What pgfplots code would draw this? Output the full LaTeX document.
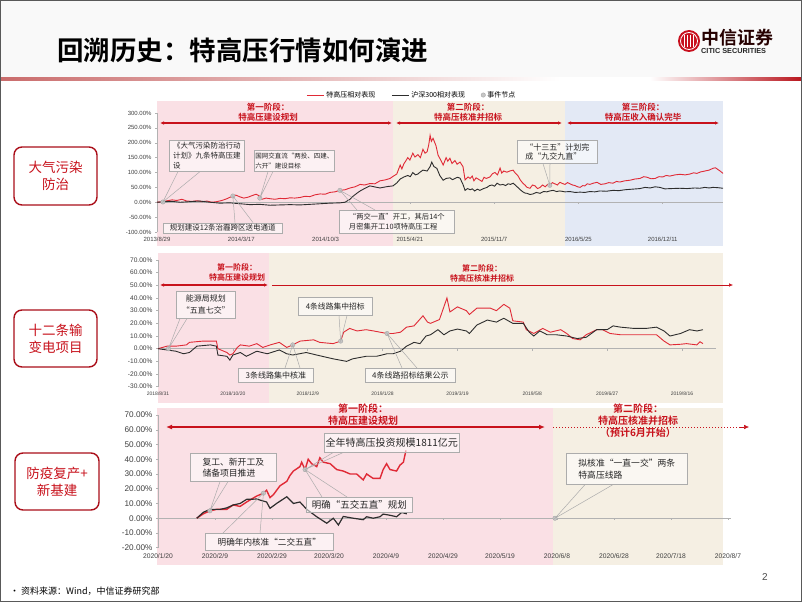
\documentclass[border=0pt]{standalone}
\usepackage{fontspec}
\usepackage{pgfplots}
\pgfplotsset{compat=1.18}
\usetikzlibrary{arrows.meta,calc}
\setmainfont{Liberation Sans}
\newfontfamily\cjk{Noto Sans CJK SC}
\newfontfamily\cjkb{Noto Sans CJK SC Bold}
\definecolor{pinkbg}{RGB}{250,224,229}
\definecolor{beigebg}{RGB}{245,239,227}
\definecolor{bluebg}{RGB}{227,233,245}
\definecolor{redl}{RGB}{224,42,54}
\definecolor{darkl}{RGB}{45,45,45}
\definecolor{phasered}{RGB}{200,18,28}
\definecolor{logored}{RGB}{200,16,30}
\definecolor{hdrl}{RGB}{202,108,108}
\definecolor{hdrr}{RGB}{185,22,30}
\pgfplotsset{
  slide/.style={scale only axis, anchor=south west, clip=false,
    axis y line*=left, axis x line*=bottom,
    x axis line style={draw=none}, xtick style={draw=none},
    y axis line style={draw=gray!60, line width=0.5pt}, ytick style={draw=gray!60, line width=0.5pt},
    tick align=outside, major tick length=2pt,
    /pgf/number format/assume math mode=true,
    yticklabel={\pgfmathprintnumber[fixed,fixed zerofill,precision=2]{\tick}\%},
    tick label style={text=black!75}},
}
\tikzset{
  ann/.style={draw=gray!65, line width=0.6pt, fill=white, fill opacity=0.55, text opacity=1, text=black!85, inner sep=1pt, anchor=north west},
  call/.style={draw=gray!65, line width=0.5pt},
  ph/.style={text=phasered, font=\cjkb\fontsize{#1}{#1}\selectfont},
  parr/.style={draw=phasered, line width=1.2pt},
  side/.style={draw=logored!85!black, line width=1.4pt, rounded corners=8pt, fill=white, align=center, text=phasered, font=\cjk\fontsize{13.5}{17}\selectfont},
}
\begin{document}
\begin{tikzpicture}
\begin{scope}[x=1pt,y=-1pt]
\path[use as bounding box] (0,0) rectangle (802,602);
\fill[white] (0,0) rectangle (802,602);
\fill[gray!5] (0,0) rectangle (802,77);
\shade[left color=hdrl, right color=white] (0,77) rectangle (560,80);
\shade[left color=white, right color=hdrr] (650,77) rectangle (802,80);
% logo
\fill[logored] (689,41) circle (11pt);
\draw[white, line width=0.8pt] (689,41) circle (8.5pt);
\foreach \xx in {-4.5,-1.5,1.5,4.5} \draw[white, line width=1pt] (689+\xx,35) -- (689+\xx,47);
\node[anchor=west, font=\cjkb\fontsize{18}{20}\selectfont, text=black!85!red, inner sep=0pt] at (701,38) {中信证券};
\node[anchor=west, font=\bfseries\fontsize{7.3}{8}\selectfont, text=black!85, inner sep=0pt] at (701,51) {CITIC SECURITIES};
% title
\node[anchor=west, font=\cjkb\fontsize{26.5}{30}\selectfont, inner sep=0pt] at (57,50) {回溯历史：特高压行情如何演进};
% shadings
\fill[pinkbg] (157,101) rectangle (393,246);
\fill[beigebg] (393,101) rectangle (565,246);
\fill[bluebg] (565,101) rectangle (723,246);
\fill[pinkbg] (158,253) rectangle (269,403);
\fill[beigebg] (269,253) rectangle (723,403);
\fill[pinkbg] (157,408) rectangle (553,565);
\fill[beigebg] (553,408) rectangle (723,565);
% side labels
\node[side, minimum width=83pt, minimum height=58pt] at (55.5,176) {大气污染\\防治};
\node[side, minimum width=83pt, minimum height=57pt] at (55.5,338.5) {十二条输\\变电项目};
\node[side, minimum width=84pt, minimum height=57pt] at (57,481.5) {防疫复产+\\新基建};
\end{scope}

% ---------- panel 1
\begin{axis}[slide, at={(157pt,-232pt)}, width=566pt, height=119pt,
  xmin=0, xmax=1343, ymin=-100, ymax=300,
  ytick={-100,-50,...,300},
  xtick={0,200,...,1200},
  xticklabels={2013/8/29,2014/3/17,2014/10/3,2015/4/21,2015/11/7,2016/5/25,2016/12/11},
  xticklabel style={font=\fontsize{6}{7}\selectfont},
  yticklabel style={font=\fontsize{6}{7}\selectfont},
  legend style={at={(0.4505,1.151)}, anchor=center, draw=none, fill=none, legend columns=3,
    font=\cjk\fontsize{7}{8}\selectfont, inner sep=0pt,
    /tikz/every even column/.append style={column sep=14pt}}]
\addplot[gray!60, line width=0.5pt, forget plot] coordinates {(0,0) (1343,0)};
\addplot[gray!60, line width=0.5pt, ycomb, forget plot] coordinates {(200,-6) (400,-6) (600,-6) (800,-6) (1000,-6) (1200,-6)};
\addplot[redl, line width=0.9pt] coordinates {
(0,0)(12,2)(24,5)(36,8)(47,6)(59,10)(71,4)(83,3)(95,5)(107,2)(119,4)(130,0)(142,2)(154,6)(166,12)(178,20)(187,24)(197,18)(206,14)(216,17)(225,22)(235,27)(242,22)(249,10)(259,14)(268,12)(280,10)(292,13)(304,12)(316,15)(327,14)(339,16)(351,20)(363,19)(375,25)(387,28)(399,27)(410,33)(422,35)(434,40)(446,42)(458,48)(470,52)(482,60)(493,58)(505,63)(517,62)(529,72)(541,75)(553,80)(560,87)(569,95)(577,125)(581,112)(586,130)(590,138)(595,150)(600,142)(607,165)(612,152)(619,160)(625,150)(631,178)(636,165)(641,170)(645,195)(648,225)(651,205)(655,215)(662,190)(667,158)(674,140)(679,125)(686,150)(690,138)(695,148)(700,130)(707,140)(712,128)(719,135)(726,120)(731,75)(738,85)(743,80)(748,88)(752,72)(757,82)(762,78)(771,70)(776,84)(781,80)(790,85)(796,96)(802,100)(808,92)(814,115)(818,98)(823,105)(830,101)(837,105)(845,108)(850,98)(856,90)(862,75)(868,64)(873,58)(878,50)(885,47)(891,58)(897,55)(903,46)(909,50)(915,58)(921,52)(927,60)(932,57)(938,66)(944,62)(950,58)(956,67)(962,63)(968,60)(974,66)(980,62)(986,58)(992,56)(998,52)(1004,50)(1010,56)(1015,55)(1021,62)(1027,60)(1035,64)(1044,67)(1053,60)(1063,62)(1072,66)(1082,64)(1090,70)(1098,68)(1110,72)(1122,74)(1134,78)(1146,80)(1155,86)(1163,84)(1172,79)(1182,80)(1191,86)(1200,85)(1208,90)(1217,88)(1229,92)(1241,94)(1253,92)(1265,95)(1273,99)(1281,97)(1290,102)(1300,105)(1310,108)(1319,114)(1325,116)(1331,110)(1337,104)(1343,97)};
\addlegendentry{特高压相对表现}
\addplot[darkl, line width=0.9pt] coordinates {
(0,0)(19,2)(36,3)(55,0)(78,2)(102,4)(126,0)(149,-3)(173,-2)(197,-5)(221,-8)(244,-7)(268,-10)(292,-9)(316,-8)(339,-9)(363,-7)(387,-5)(410,-3)(434,-2)(446,0)(458,10)(465,20)(474,30)(482,38)(491,45)(498,50)(505,55)(512,53)(522,50)(529,48)(536,50)(548,53)(560,55)(569,65)(577,78)(586,85)(595,90)(601,86)(607,100)(613,92)(619,95)(625,102)(631,108)(641,105)(648,120)(652,135)(657,120)(664,114)(671,90)(679,74)(686,80)(695,82)(701,76)(707,80)(713,84)(719,81)(726,60)(731,40)(737,46)(743,42)(748,45)(754,38)(760,44)(766,40)(775,46)(783,50)(789,56)(795,58)(801,54)(807,64)(814,58)(821,60)(827,56)(833,62)(839,60)(845,64)(850,58)(856,50)(862,42)(868,35)(873,31)(878,30)(885,26)(892,28)(900,33)(909,30)(917,36)(925,35)(932,38)(940,40)(948,36)(956,38)(968,35)(980,36)(992,33)(1004,34)(1015,33)(1027,36)(1039,35)(1051,38)(1066,37)(1082,40)(1096,39)(1110,42)(1128,44)(1146,46)(1158,50)(1170,48)(1182,52)(1193,50)(1205,45)(1220,46)(1241,47)(1258,46)(1276,48)(1288,47)(1300,50)(1310,48)(1319,50)(1331,49)(1343,47)};
\addlegendentry{沪深300相对表现}
\addplot[only marks, mark=*, mark size=2.2pt, draw=gray!70, fill=gray!45] coordinates {(14,1)(180,21)(244,14)(434,40)(932,57)};
\addlegendentry{事件节点}
\coordinate (e1) at (axis cs:14,1);
\coordinate (e3) at (axis cs:180,21);
\coordinate (e2) at (axis cs:244,14);
\coordinate (e4) at (axis cs:434,40);
\coordinate (e5) at (axis cs:932,57);
\end{axis}

% ---------- panel 2
\begin{axis}[slide, at={(158pt,-386.7pt)}, width=565pt, height=126.7pt,
  xmin=0, xmax=377.4, ymin=-30, ymax=70,
  ytick={-30,-20,...,70},
  xtick={0,50,...,350},
  xticklabels={2018/8/31,2018/10/20,2018/12/9,2019/1/28,2019/3/19,2019/5/8,2019/6/27,2019/8/16},
  xticklabel style={font=\fontsize{5}{6}\selectfont},
  yticklabel style={font=\fontsize{6.6}{7}\selectfont}]
\addplot[gray!60, line width=0.5pt] coordinates {(0,0) (373,0)};
\addplot[gray!60, line width=0.5pt, ycomb] coordinates {(50,-1.5) (100,-1.5) (150,-1.5) (200,-1.5) (250,-1.5) (300,-1.5) (350,-1.5)};
\addplot[redl, line width=0.9pt] coordinates {
(0,0)(6,2)(12,2)(19,3)(21,5)(30,6)(39,6)(40,0)(46,-3)(48,-5)(50,-4)(53,1)(55,3)(61,2)(66,4)(70,1)(75,3)(81,5)(86,1)(90,3)(95,6)(104,7)(108,5)(117,4)(122,6)(124,13)(128,16)(133,14)(139,15)(144,14)(153,12)(157,12)(162,13)(166,17)(171,18)(177,26)(180,21)(182,20)(188,23)(193,40)(195,29)(200,33)(206,30)(208,27)(213,32)(222,32)(226,30)(231,35)(235,32)(237,22)(244,21)(246,15)(251,12)(257,16)(262,13)(269,15)(273,12)(277,8)(282,7)(286,11)(293,15)(297,15)(302,12)(309,11)(318,11)(326,11)(333,11)(338,6)(342,3)(349,3.5)(353,4)(360,3)(362,5.5)(364,4)};
\addplot[darkl, line width=0.9pt] coordinates {
(0,0)(6,-1)(12,-2)(17,-4)(21,-3)(26,2)(35,3)(39,2)(40,-5)(46,-6)(48,-9)(50,-5)(55,-3)(59,-6)(66,-2)(73,-4)(81,-1)(86,-4)(90,-5)(99,-3)(106,-5)(117,-8)(126,-10)(130,-8)(139,-6)(146,-6)(153,-4)(157,-4)(162,-2)(166,2)(171,5)(175,4)(179,10)(182,11)(187,15)(191,11)(195,14)(200,15.5)(206,14)(208,12)(213,18.7)(220,22.6)(226,21)(231,24)(237,20)(244,20)(248,13)(251,10)(255,14)(260,11)(266,11)(273,10)(280,8)(286,9)(293,15)(300,15)(304,18)(309,17)(318,16)(326,16)(333,17)(338,14)(342,10)(349,12)(355,15)(360,14)(364,15)};
\addplot[only marks, mark=*, mark size=2.2pt, draw=gray!70, fill=gray!45] coordinates {(7,0)(90,3)(122,6)(153,12)};
\coordinate (e6) at (axis cs:7,0);
\coordinate (e7) at (axis cs:90,3);
\coordinate (e8) at (axis cs:122,6);
\coordinate (e9) at (axis cs:153,12);
\end{axis}

% ---------- panel 3
\begin{axis}[slide, at={(158pt,-547.7pt)}, width=570pt, height=132.7pt,
  xmin=0, xmax=200, ymin=-20, ymax=70,
  ytick={-20,-10,...,70},
  xtick={0,20,...,200},
  xticklabels={2020/1/20,2020/2/9,2020/2/29,2020/3/20,2020/4/9,2020/4/29,2020/5/19,2020/6/8,2020/6/28,2020/7/18,2020/8/7},
  xticklabel style={font=\fontsize{6.7}{7}\selectfont},
  yticklabel style={font=\fontsize{8.2}{9}\selectfont}]
\addplot[gray!60, line width=0.5pt] coordinates {(0,0) (201,0)};
\addplot[gray!60, line width=0.5pt, ycomb] coordinates {(20,-1.4) (40,-1.4) (60,-1.4) (80,-1.4) (100,-1.4) (120,-1.4) (140,-1.4) (160,-1.4) (180,-1.4) (200,-1.4)};
\addplot[redl, line width=1.4pt] coordinates {
(13.6,0)(15.9,3)(18.2,5)(20.6,6)(24.1,6)(26.4,9)(28.8,8)(31.1,11)(34.6,15)(37,17)(38.1,19)(39.3,14)(40.5,16)(42.8,22)(45.2,25)(46.3,29)(47.5,32)(49.8,35)(50.4,38)(51.6,33)(52.7,40)(53.9,37)(55.7,35)(56.8,41)(58,38)(60.4,37)(62.7,33)(65,32)(67.4,30)(69.7,30)(72,26)(73.2,30)(75.5,27)(77.9,27)(79,33)(80.2,37)(81.4,33)(83.7,32)(84.9,36)(86.1,38)(87,46)};
\addplot[darkl, line width=1.2pt] coordinates {
(13.6,0)(15.9,4)(18.2,6)(21.8,6)(24.1,7)(26.4,9)(28.8,10)(31.1,12.8)(34.6,13)(38.1,11)(39.3,6.7)(41.6,10)(45.2,14.6)(47.5,10)(49.8,11)(52.2,6)(55.7,1)(59.2,-3.4)(61.5,0)(63.3,-4.6)(65,1.2)(68.5,0)(72,-1)(73.2,1)(75.5,0)(77.9,1)(79,2.8)(81.4,2)(83.7,1)(85.5,3.9)(87.3,3)};
\addplot[only marks, mark=*, mark size=2.2pt, draw=gray!70, fill=gray!45] coordinates {(18.2,5)(37,17)(51.6,33)(139.3,0)};
\coordinate (e10) at (axis cs:18.2,5);
\coordinate (e11) at (axis cs:37,17);
\coordinate (e12) at (axis cs:51.6,33);
\coordinate (e13) at (axis cs:139.3,0);
\end{axis}

\begin{scope}[x=1pt,y=-1pt]
% ---------- phase arrows and labels
\draw[parr, {Latex[length=4pt,width=3.5pt]}-{Latex[length=4pt,width=3.5pt]}] (160,123) -- (392,123);
\draw[parr, {Latex[length=4pt,width=3.5pt]}-{Latex[length=4pt,width=3.5pt]}] (396,123) -- (562,123);
\draw[parr, {Latex[length=4pt,width=3.5pt]}-{Latex[length=4pt,width=3.5pt]}] (567,123) -- (719,123);
\node[ph=8.5] at (268,107) {第一阶段：};
\node[ph=8.5] at (268,117.5) {特高压建设规划};
\node[ph=8.5] at (468,107) {第二阶段：};
\node[ph=8.5] at (468,117.5) {特高压核准并招标};
\node[ph=8.5] at (643,107) {第三阶段：};
\node[ph=8.5] at (643,117.5) {特高压收入确认完毕};

\draw[parr, {Latex[length=4pt,width=3.5pt]}-{Latex[length=4pt,width=3.5pt]}] (160,285) -- (268,285);
\draw[draw=phasered, line width=0.5pt, -{Latex[length=4pt,width=3.5pt]}] (272,285) -- (733,285);
\node[ph=8] at (237,267) {第一阶段：};
\node[ph=8] at (237,277.5) {特高压建设规划};
\node[ph=8] at (482,268) {第二阶段：};
\node[ph=8] at (482,278.5) {特高压核准并招标};

\draw[draw=phasered, line width=1.8pt, {Latex[length=6pt,width=5pt]}-{Latex[length=6pt,width=5pt]}] (166,427) -- (545,427);
\draw[draw=phasered, line width=1pt, dotted] (553,427) -- (742,427);
\draw[draw=phasered, line width=0.5pt, -{Latex[length=5pt,width=4.5pt]}] (740,427) -- (749,427);
\node[ph=10] at (363,408.5) {第一阶段：};
\node[ph=10] at (363,421) {特高压建设规划};
\node[ph=10] at (638,408.5) {第二阶段：};
\node[ph=10] at (638,421) {特高压核准并招标};
\node[ph=10] at (638,433) {（预计6月开始）};

% ---------- annotation boxes
\node[ann, minimum width=75pt, minimum height=31pt, align=left, font=\cjk\fontsize{7.5}{10}\selectfont] (b1) at (169,140) {《大气污染防治行动\\计划》九条特高压建\\设};
\node[ann, minimum width=59pt, minimum height=21pt, align=left, font=\cjk\fontsize{6.5}{10}\selectfont] (b2) at (254,150) {国网交直流“两投、四建、\\六开”建设目标};
\node[ann, minimum width=119pt, minimum height=10.5pt, font=\cjk\fontsize{7.5}{9}\selectfont] (b3) at (163,222.5) {规划建设12条治霾跨区送电通道};
\node[ann, minimum width=115pt, minimum height=23pt, align=left, font=\cjk\fontsize{7.3}{10}\selectfont] (b4) at (339,210) {“两交一直”开工，其后14个\\月密集开工10项特高压工程};
\node[ann, minimum width=80pt, minimum height=23pt, align=left, font=\cjk\fontsize{8}{9.5}\selectfont] (b5) at (517,140) {“十三五”计划完\\成“九交九直”};

\node[ann, minimum width=59pt, minimum height=27pt, align=center, font=\cjk\fontsize{8}{12}\selectfont] (c1) at (176,291) {能源局规划\\“五直七交”};
\node[ann, minimum width=74pt, minimum height=18pt, font=\cjk\fontsize{7.8}{9}\selectfont] (c2) at (298,297) {4条线路集中招标};
\node[ann, minimum width=75pt, minimum height=14pt, font=\cjk\fontsize{8}{9}\selectfont] (c3) at (238,368) {3条线路集中核准};
\node[ann, minimum width=90pt, minimum height=14pt, font=\cjk\fontsize{8}{9}\selectfont] (c4) at (365,368) {4条线路招标结果公示};

\node[ann, minimum width=135pt, minimum height=19pt, font=\cjk\fontsize{10}{11}\selectfont] (d1) at (324,433) {全年特高压投资规模1811亿元};
\node[ann, minimum width=86pt, minimum height=28pt, align=left, font=\cjk\fontsize{8.8}{11}\selectfont] (d2) at (190,453) {复工、新开工及\\储备项目推进};
\node[ann, minimum width=106pt, minimum height=15pt, font=\cjk\fontsize{9.5}{10}\selectfont] (d3) at (306,497) {明确“五交五直”规划};
\node[ann, minimum width=128pt, minimum height=17pt, font=\cjk\fontsize{8.6}{10}\selectfont] (d4) at (205,533) {明确年内核准“二交五直”};
\node[ann, minimum width=121pt, minimum height=31pt, align=left, font=\cjk\fontsize{8.8}{12}\selectfont] (d5) at (566,453) {拟核准“一直一交”两条\\特高压线路};

% callouts
\draw[call] ($(b1.south west)+(9,0)$) -- (e1) -- ($(b1.south west)+(31,0)$);
\draw[call] ($(b2.south west)+(14,0)$) -- (e2) -- ($(b2.south west)+(19,0)$);
\draw[call] ($(b3.north west)+(72,0)$) -- (e3) -- ($(b3.north west)+(90,0)$);
\draw[call] ($(b4.north west)+(18,0)$) -- (e4) -- ($(b4.north west)+(36,0)$);
\draw[call] ($(b5.south west)+(26,0)$) -- (e5) -- ($(b5.south west)+(33,0)$);
\draw[call] ($(c1.south west)+(4,0)$) -- (e6) -- ($(c1.south west)+(11,0)$);
\draw[call] ($(c2.south west)+(41,0)$) -- (e8) -- ($(c2.south west)+(49,0)$);
\draw[call] ($(c3.north west)+(47,0)$) -- (e7) -- ($(c3.north west)+(62,0)$);
\draw[call] ($(c4.north west)+(37,0)$) -- (e9) -- ($(c4.north west)+(52,0)$);
\draw[call] ($(d1.south west)+(9,0)$) -- (e12) -- ($(d1.south west)+(19,0)$);
\draw[call] ($(d2.south west)+(30,0)$) -- (e10) -- ($(d2.south west)+(38,0)$);
\draw[call] ($(d3.north west)+(16,0)$) -- (e12) -- ($(d3.north west)+(41,0)$);
\draw[call] ($(d4.north west)+(18,0)$) -- (e11) -- ($(d4.north west)+(55,0)$);
\draw[call] ($(d5.south west)+(19,0)$) -- (e13) -- ($(d5.south west)+(47,0)$);

% footer
\node[anchor=west, font=\cjk\fontsize{9}{11}\selectfont, inner sep=0pt] at (10,591) {• 资料来源：Wind，中信证券研究部};
\node[font=\fontsize{10}{12}\selectfont, text=black!70] at (765,577) {2};
\draw[gray!70!black, line width=1.2pt] (0.6,0.6) rectangle (801.4,601.4);
\end{scope}
\end{tikzpicture}
\end{document}
